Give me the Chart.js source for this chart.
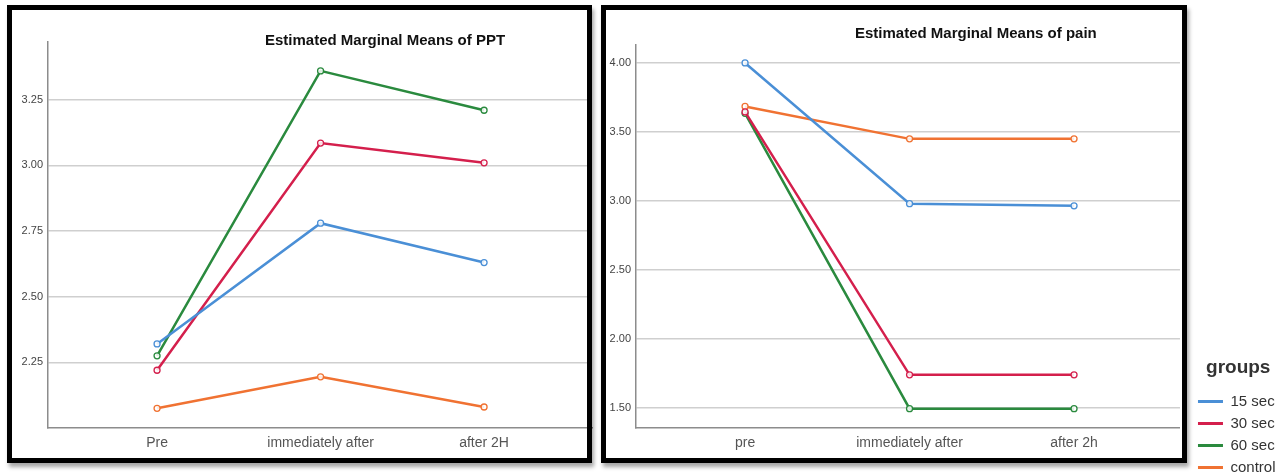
<!DOCTYPE html>
<html>
<head>
<meta charset="utf-8">
<script src="https://cdn.jsdelivr.net/npm/chart.js@4/dist/chart.umd.min.js"></script>
<style>
  html, body { margin: 0; padding: 0; background: #fff; }
  body { width: 1282px; height: 475px; position: relative; overflow: hidden; }
  canvas { position: absolute; top: 0; }
  #c1 { left: 0; }
  #c2 { left: 600px; }
  .frame { position: absolute; box-sizing: border-box; border: 5px solid #000;
           box-shadow: 2px 4px 4px rgba(0,0,0,0.35); pointer-events: none; }
  #f1 { left: 7px; top: 5px; width: 585px; height: 458px; }
  #f2 { left: 601px; top: 5px; width: 586px; height: 458px; }
</style>
</head>
<body>
<canvas id="c1" width="600" height="475"></canvas>
<canvas id="c2" width="682" height="475"></canvas>
<div class="frame" id="f1"></div>
<div class="frame" id="f2"></div>
<script>
// ---- data ----
const titlePPT = 'Estimated Marginal Means of PPT';
const titlePain = 'Estimated Marginal Means of pain';
const categoriesPPT = ['Pre', 'immediately after', 'after 2H'];
const categoriesPain = ['pre', 'immediately after', 'after 2h'];
const groupNames = ['15 sec', '30 sec', '60 sec', 'control'];
const legendTitle = 'groups';

const ppt15 = [2.32, 2.78, 2.63];
const ppt30 = [2.22, 3.085, 3.01];
const ppt60 = [2.275, 3.36, 3.21];
const pptControl = [2.075, 2.195, 2.08];

const pain15 = [4.00, 2.98, 2.965];
const pain30 = [3.645, 1.74, 1.74];
const pain60 = [3.635, 1.495, 1.495];
const painControl = [3.685, 3.45, 3.45];

const pptTicks = [2.25, 2.50, 2.75, 3.00, 3.25];
const painTicks = [1.50, 2.00, 2.50, 3.00, 3.50, 4.00];

// ---- styles ----
const groupColors = ['#4a8fd6', '#d41f4c', '#2a8a3e', '#f07232'];
const FONT = '"Liberation Sans", Arial, sans-serif';

function makeDatasets(seriesList) {
  return seriesList.map((vals, gi) => ({
    label: groupNames[gi],
    data: vals.map((v, i) => ({ x: i, y: v })),
    borderColor: groupColors[gi],
    backgroundColor: groupColors[gi],
    borderWidth: 2.5,
    pointRadius: 3,
    pointBorderWidth: 1.3,
    pointBackgroundColor: 'rgba(255,255,255,0.85)',
    pointBorderColor: groupColors[gi],
    tension: 0
  }));
}

const titlePlugin = {
  id: 'panelTitle',
  afterDraw(chart, args, opts) {
    const ctx = chart.ctx;
    ctx.save();
    ctx.font = 'bold 15px ' + FONT;
    ctx.fillStyle = '#111';
    ctx.textAlign = 'left';
    ctx.textBaseline = 'alphabetic';
    ctx.fillText(opts.text, opts.x, opts.y);
    ctx.restore();
  }
};

const legendShift = {
  id: 'legendShift',
  afterLayout(chart, args, opts) {
    const lg = chart.legend;
    if (!lg) return;
    lg.left += opts.dx; lg.right += opts.dx;
    lg.top += opts.dy; lg.bottom += opts.dy;
  }
};

function makeOptions(cfg) {
  return {
    responsive: false,
    maintainAspectRatio: false,
    animation: false,
    layout: { padding: { left: 0, top: cfg.top, right: cfg.right, bottom: 0 } },
    plugins: {
      legend: cfg.legend || { display: false },
      tooltip: { enabled: false },
      panelTitle: cfg.title,
      legendShift: cfg.shift || { dx: 0, dy: 0 }
    },
    scales: {
      x: {
        type: 'linear',
        min: cfg.xmin, max: cfg.xmax,
        afterBuildTicks: s => { s.ticks = cfg.cats.map((c, i) => ({ value: i })); },
        afterFit: s => { s.height = 47; },
        ticks: {
          callback: v => cfg.cats[v],
          font: { family: FONT, size: 14 },
          color: '#555',
          padding: 7,
          maxRotation: 0, autoSkip: false
        },
        grid: { display: false, drawTicks: false },
        border: { display: true, color: '#8c8c8c', width: 1.5 }
      },
      y: {
        type: 'linear',
        min: cfg.ymin, max: cfg.ymax,
        afterBuildTicks: s => { s.ticks = cfg.yticks.map(v => ({ value: v })); },
        afterFit: s => { s.width = cfg.yw; },
        ticks: {
          callback: v => Number(v).toFixed(2),
          font: { family: FONT, size: 11 },
          color: '#444',
          padding: 5
        },
        grid: { display: true, drawTicks: false, color: '#cfcfcf', lineWidth: 1.5 },
        border: { display: true, color: '#8c8c8c', width: 1.5 }
      }
    }
  };
}

new Chart(document.getElementById('c1'), {
  type: 'line',
  data: { datasets: makeDatasets([ppt15, ppt30, ppt60, pptControl]) },
  options: makeOptions({
    top: 42, right: 8, yw: 48,
    xmin: -0.667, xmax: 2.66,
    ymin: 2.0, ymax: 3.47,
    cats: categoriesPPT, yticks: pptTicks,
    title: { text: titlePPT, x: 265, y: 45 }
  }),
  plugins: [titlePlugin, legendShift]
});

new Chart(document.getElementById('c2'), {
  type: 'line',
  data: { datasets: makeDatasets([pain15, pain30, pain60, painControl]) },
  options: makeOptions({
    top: 45, right: 7.5, yw: 36,
    xmin: -0.663, xmax: 2.644,
    ymin: 1.355, ymax: 4.13,
    cats: categoriesPain, yticks: painTicks,
    title: { text: titlePain, x: 255, y: 38 },
    shift: { dx: 11, dy: 7 },
    legend: {
      display: true,
      position: 'right',
      align: 'end',
      labels: {
        usePointStyle: true,
        pointStyle: 'line',
        pointStyleWidth: 25,
        padding: 7,
        font: { family: FONT, size: 15 },
        color: '#333',
        generateLabels: chart =>
          Chart.defaults.plugins.legend.labels.generateLabels(chart).map(l =>
            Object.assign(l, { lineWidth: 3, pointStyle: 'line' }))
      },
      title: {
        display: true,
        text: legendTitle,
        position: 'center',
        font: { family: FONT, size: 19, weight: 'bold' },
        color: '#333',
        padding: { top: 0, bottom: 6 }
      }
    }
  }),
  plugins: [titlePlugin, legendShift]
});
</script>
</body>
</html>
